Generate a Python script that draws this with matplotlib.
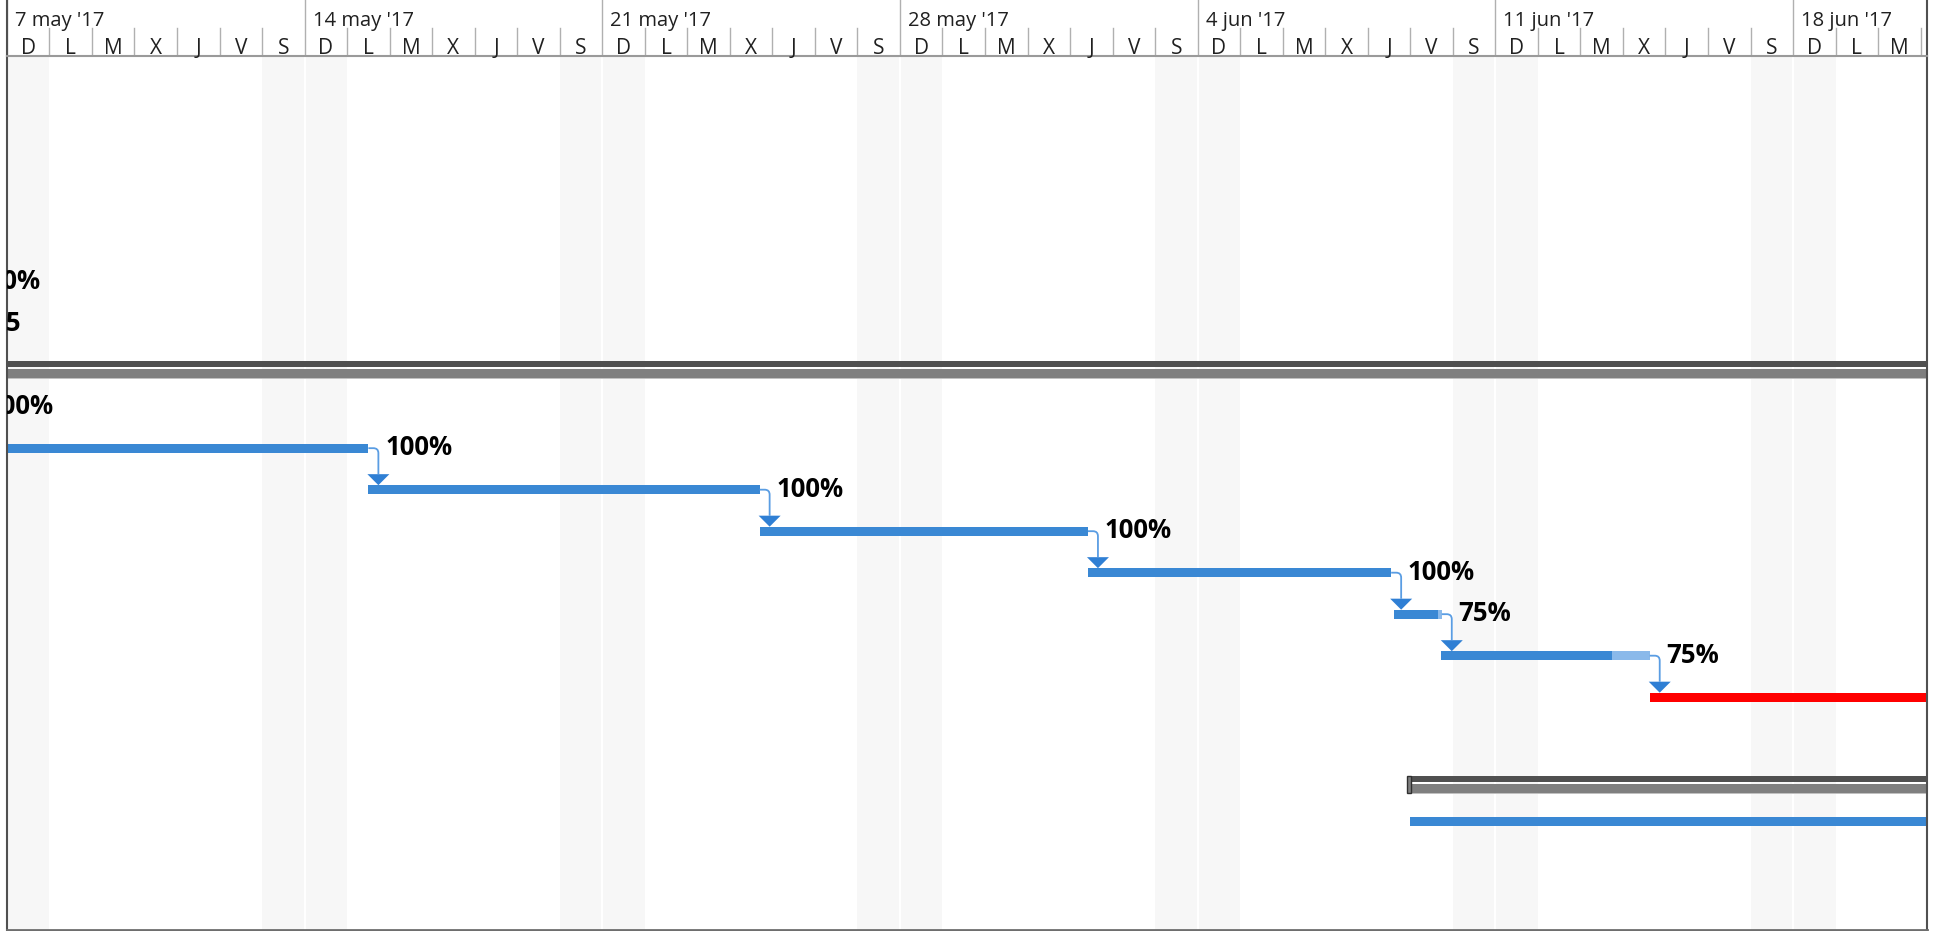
import numpy as np
import pandas as pd
import matplotlib
matplotlib.use('Agg')
import matplotlib.pyplot as plt
import matplotlib.dates as mdates
from matplotlib.patches import Polygon, PathPatch, Rectangle
from matplotlib.path import Path

plt.rcParams['font.family'] = ['Open Sans', 'DejaVu Sans']

# visible window of the timescale
view_start = '2017-05-07'
view_days = 45.15
day_letters = ['L', 'M', 'X', 'J', 'V', 'S', 'D']   # Monday first, like weekday()
month_abbr = {5: 'may', 6: 'jun'}

# tasks (row index counted from the first visible line under the header)
task_rows = [0, 1, 3, 4, 5, 6, 7, 8, 9, 10, 13]
task_start = ['2017-04-28', '2017-04-28', '2017-04-28', '2017-05-01',
              '2017-05-15 12:00', '2017-05-24 16:48', '2017-06-01 10:05',
              '2017-06-08 14:38', '2017-06-09 17:17', '2017-06-14 15:07',
              '2017-06-09 00:00']
task_finish = ['2017-05-05 19:41', '2017-05-06 05:46', '2017-05-06 02:53',
               '2017-05-15 12:00', '2017-05-24 16:48', '2017-06-01 10:05',
               '2017-06-08 13:12', '2017-06-09 17:46', '2017-06-14 15:07',
               '2017-06-30', '2017-07-15']
task_done = ['2017-05-05 19:41', '2017-05-06 05:46', '2017-05-06 02:53',
             '2017-05-15 12:00', '2017-05-24 16:48', '2017-06-01 10:05',
             '2017-06-08 13:12', '2017-06-09 15:22', '2017-06-13 18:00',
             '2017-06-30', '2017-07-15']
task_labels = ['100%', '75', '100%', '100%', '100%', '100%', '100%',
               '75%', '75%', '', '']
task_color = ['#3a88d4'] * 9 + ['#ff0000', '#3a88d4']
task_rest_color = ['#8ab9ea'] * 9 + ['#ff0000', '#3a88d4']

# summary bars
summary_rows = [2, 12]
summary_start = ['2017-04-20', '2017-06-09 00:00']
summary_finish = ['2017-07-20', '2017-07-20']

# predecessor -> successor (rows)
links = [(4, 5), (5, 6), (6, 7), (7, 8), (8, 9), (9, 10)]


def num(s):
    return mdates.date2num(pd.Timestamp(s).to_pydatetime())


W, H = 1934, 931
left_px, right_px, head_px, bottom_px = 6.9, 1927, 56, 930
row_top, row_bottom = -5.45, 15.61

fig = plt.figure(figsize=(W / 100, H / 100), dpi=100)
ax = fig.add_axes([left_px / W, (H - bottom_px) / H,
                   (right_px - left_px) / W, (bottom_px - head_px) / H])
hx = fig.add_axes([left_px / W, (H - head_px) / H,
                   (right_px - left_px) / W, head_px / H])

x0 = num(view_start)
x1 = x0 + view_days
px_day = (right_px - left_px) / view_days
px_row = (bottom_px - head_px) / (row_bottom - row_top)
dx = lambda p: p / px_day
dy = lambda p: p / px_row

for a in (ax, hx):
    a.set_xlim(x0, x1)
    a.set_xticks([])
    a.set_yticks([])
    a.spines['top'].set_visible(False)
    for s in ('left', 'right'):
        a.spines[s].set_color('#505050')
        a.spines[s].set_linewidth(1.5)
ax.set_ylim(row_bottom, row_top)
ax.spines['bottom'].set_color('#6e6e6e')
ax.spines['bottom'].set_linewidth(2)
hx.set_ylim(head_px, 0)
hx.spines['bottom'].set_color('#9a9a9a')
hx.spines['bottom'].set_linewidth(1.5)

# timescale header and weekend shading
days = pd.date_range(pd.Timestamp(view_start) - pd.Timedelta(days=1), periods=48)
for d in days:
    xd = num(d)
    wd = d.weekday()
    if wd >= 5:
        ax.axvspan(xd, xd + 1, color='#f7f7f7', lw=0, zorder=0)
    if wd == 6:
        ax.axvline(xd, color='white', lw=1.5, zorder=0.5)
        hx.plot([xd, xd], [0, head_px], color='#b0b0b0', lw=1)
        if x0 <= xd < x1:
            hx.text(xd + dx(8), 26, f"{d.day} {month_abbr[d.month]} '{d:%y}",
                    fontsize=14.5, va='baseline', ha='left', color='#202020',
                    clip_on=True)
    else:
        hx.plot([xd, xd], [28, head_px], color='#b0b0b0', lw=1)
    if x0 <= xd + 0.5 < x1:
        hx.text(xd + 0.5, 53.5, day_letters[wd], fontsize=15, va='baseline',
                ha='center', color='#202020')

# task bars
bar_h = dy(9)
ends = {}
for r, s, f, dn, lab, c, rc in zip(task_rows, task_start, task_finish, task_done,
                                    task_labels, task_color, task_rest_color):
    xs, xf, xd = num(s), num(f), num(dn)
    ax.barh(r, xf - xs, left=xs, height=bar_h, color=rc, lw=0, zorder=2)
    ax.barh(r, xd - xs, left=xs, height=bar_h, color=c, lw=0, zorder=2.1)
    ends[r] = xf
    if lab:
        ax.text(xf + dx(16.7), r + dy(7), lab, fontsize=18.5, fontweight='bold',
                va='baseline', ha='left', color='black', clip_on=True, zorder=4)

# summary bars
for r, s, f in zip(summary_rows, summary_start, summary_finish):
    xs, xf = num(s), num(f)
    ax.barh(r + dy(-1), xf - xs, left=xs, height=dy(6), color='#505050', lw=0, zorder=2)
    ax.barh(r + dy(8.5), xf - xs, left=xs, height=dy(9), color='#7f7f7f', lw=0, zorder=2)
    ax.barh(r + dy(13.5), xf - xs, left=xs, height=dy(1.2), color='#c0c0c0', lw=0, zorder=2)
    ax.add_patch(Rectangle((xs - dx(3), r + dy(-4)), dx(4), dy(17), facecolor='#7f7f7f',
                           edgecolor='#303030', lw=1, zorder=3))

# dependency connectors
for a, b in links:
    xe = ends[a]
    cx = xe + dx(10)
    tip = b - dy(4.5)
    base = tip - dy(11)
    verts = [(xe, a), (xe + dx(5), a), (cx, a), (cx, a + dy(5)), (cx, base)]
    codes = [Path.MOVETO, Path.LINETO, Path.CURVE3, Path.CURVE3, Path.LINETO]
    ax.add_patch(PathPatch(Path(verts, codes), fill=False, edgecolor='#5a9de3',
                           lw=1.3, zorder=3))
    ax.add_patch(Polygon([(cx - dx(11), base), (cx + dx(11), base), (cx, tip)],
                         closed=True, facecolor='#2f7fd4', edgecolor='none', zorder=3))

fig.savefig('out.png', dpi=100)
